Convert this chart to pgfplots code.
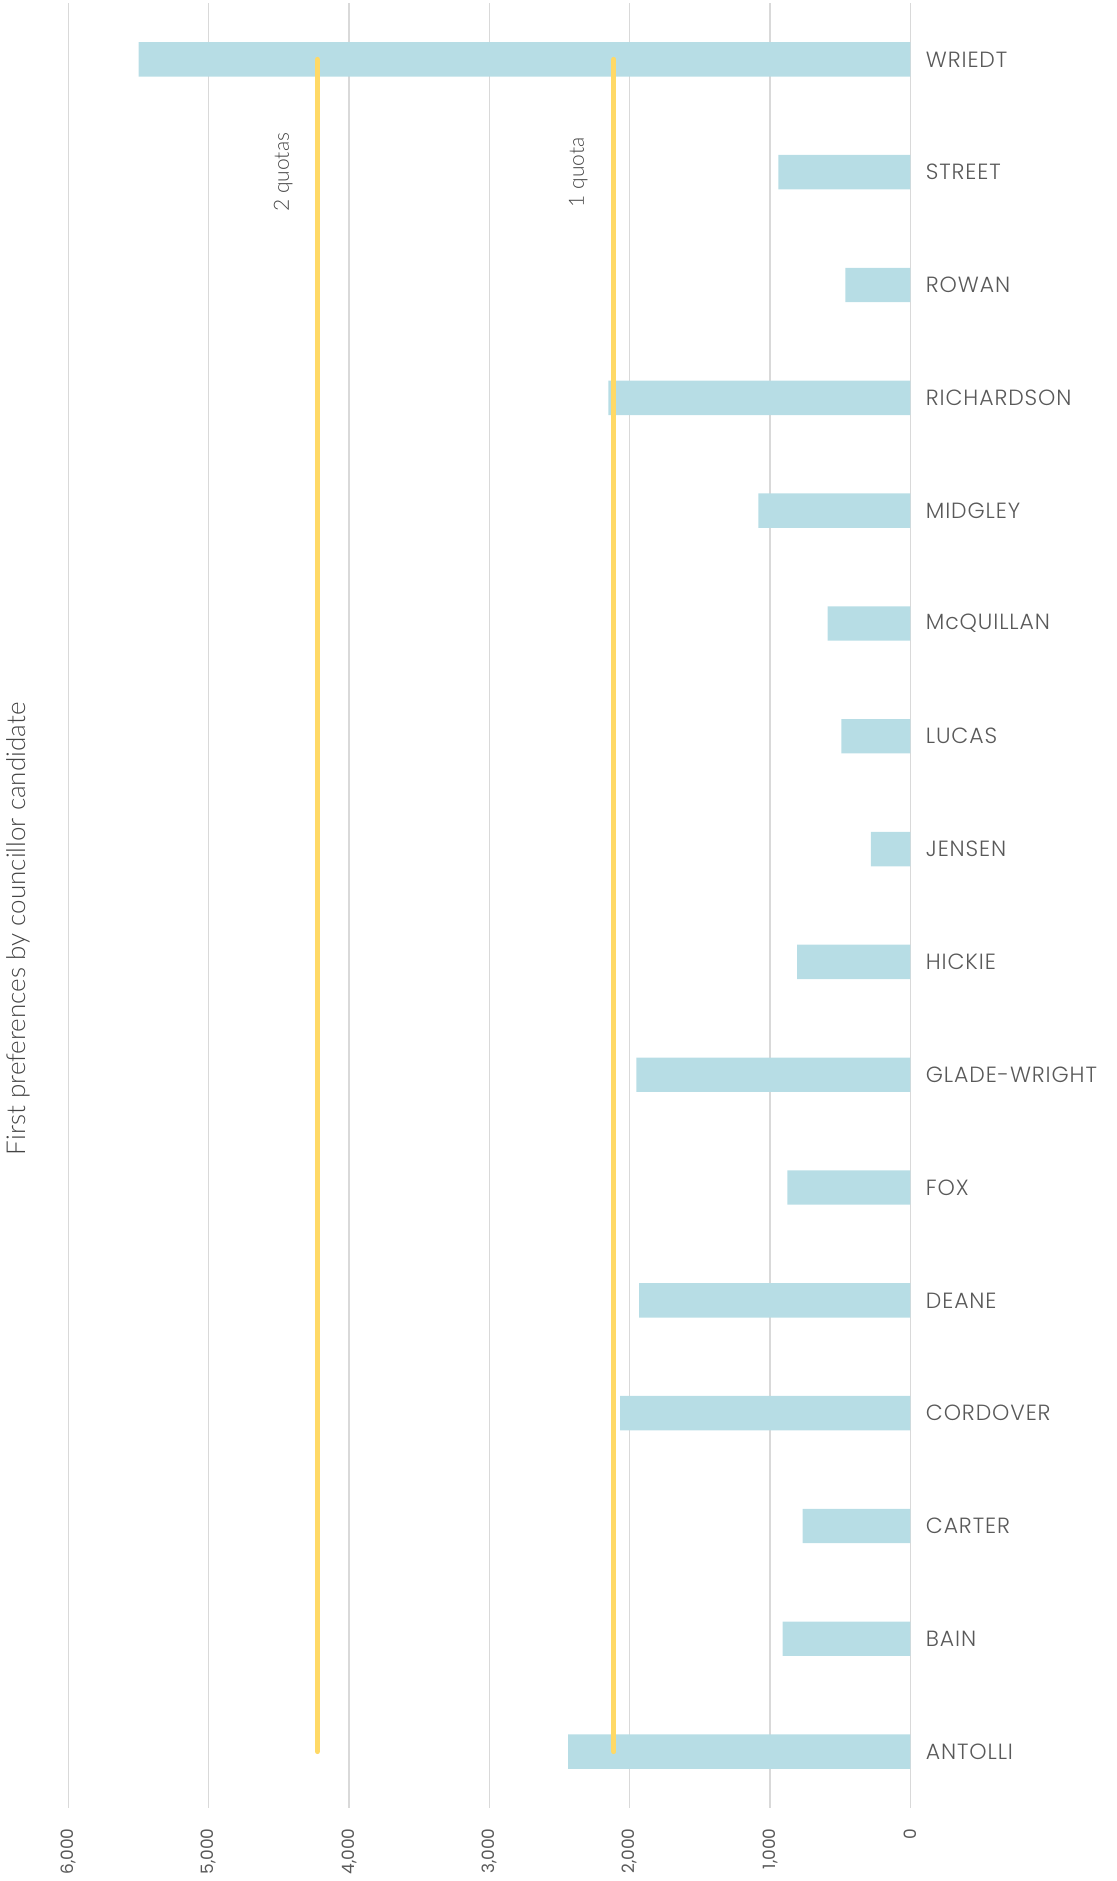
\documentclass[border=0pt]{standalone}
\usepackage{pgfplots}
\pgfplotsset{compat=1.18}
\usepackage{pgfplotstable}
\usepackage{fontspec}
\setmainfont{Poppins}
\IfFontExistsTF{Poppins Light}
  {\newfontfamily\catfont[LetterSpace=4]{Poppins Light}}
  {\newfontfamily\catfont[LetterSpace=4]{Poppins}}
\IfFontExistsTF{Lato Light}{\newfontfamily\lightfont{Lato Light}}{\newfontfamily\lightfont{Lato}}

\definecolor{barblue}{HTML}{B7DDE5}
\definecolor{quota}{HTML}{FFD966}
\definecolor{gridgray}{HTML}{D9D9D9}
\definecolor{textgray}{HTML}{595959}
\definecolor{darkgray}{HTML}{444444}

% first preferences, bottom to top
\pgfplotstableread{
idx name votes
0 ANTOLLI 2439
1 BAIN 911
2 CARTER 768
3 CORDOVER 2068
4 DEANE 1934
5 FOX 876
6 GLADE-WRIGHT 1953
7 HICKIE 808
8 JENSEN 282
9 LUCAS 492
10 McQUILLAN 589
11 MIDGLEY 1084
12 RICHARDSON 2153
13 ROWAN 463
14 STREET 940
15 WRIEDT 5500
}\votes

\begin{document}
\begin{tikzpicture}[x=1pt,y=1pt]
\useasboundingbox (0,0) rectangle (558.5,940.5);

\begin{axis}[
  at={(34.25pt,36.5pt)}, anchor=south west,
  scale only axis, width=420.95pt, height=902.5pt,
  xbar, bar width=0.305, bar shift=0pt,
  x dir=reverse,
  xmin=0, xmax=6000,
  ymin=-0.5, ymax=15.5,
  axis line style={draw=none},
  tick style={draw=none},
  xmajorgrids,
  grid style={color=gridgray, line width=0.65pt},
  xtick={0,1000,...,6000},
  xticklabel style={rotate=90, anchor=east, inner sep=0pt,
    font=\fontsize{8.5}{10}\selectfont, text=textgray},
  xticklabel shift=10pt,
  /pgf/number format/.cd, 1000 sep={,}, assume math mode=true,
  /pgfplots/.cd,
  ytick={0,...,15},
  yticklabels from table={\votes}{name},
  yticklabel pos=right,
  yticklabel style={anchor=west, inner sep=0pt,
    font=\catfont\fontsize{11}{13}\selectfont, text=textgray},
  yticklabel shift=3.3pt,
]
\addplot[fill=barblue, draw=none] table[x=votes, y=idx] {\votes};

\addplot[sharp plot, no marks, color=quota, line width=2.5pt, line cap=round]
  coordinates {(2113,0) (2113,15)};
\addplot[sharp plot, no marks, color=quota, line width=2.5pt, line cap=round]
  coordinates {(4226,0) (4226,15)};

\node[rotate=90, anchor=south, inner sep=0pt, text=darkgray,
  font=\lightfont\fontsize{10.5}{12}\selectfont] at (axis cs:2298,14) {1 quota};
\node[rotate=90, anchor=south, inner sep=0pt, text=darkgray,
  font=\lightfont\fontsize{10.5}{12}\selectfont] at (axis cs:4400,14) {2 quotas};
\end{axis}

\node[rotate=90, text=darkgray, inner sep=0pt,
  font=\lightfont\fontsize{13}{15}\selectfont] at (9,476) {First preferences by councillor candidate};
\end{tikzpicture}
\end{document}
